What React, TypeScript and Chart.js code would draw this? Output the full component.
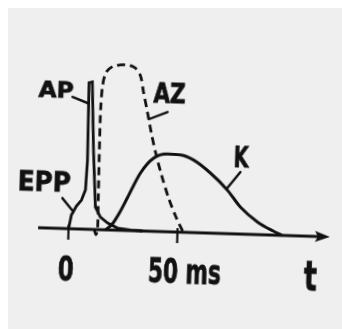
import React, { useEffect, useRef } from "react";
import { Chart, registerables } from "chart.js";

Chart.register(...registerables);

// ---- data (time in ms, amplitude in arbitrary units) ----
const eppApTime = [0, 1.1, 3.3, 5.5, 7.2, 7.7, 7.3, 8.8, 10.3, 12.0, 14.4, 17.8, 22.4, 28.4, 34];
const eppApValue = [0, 13.7, 22.9, 29, 39.2, 69, 146.5, 147.4, 79.4, 22.5, 12.6, 6.9, 2.2, 0.6, 0];

const azTime = [11.8, 12.6, 13.3, 13.2, 13.0, 13.0, 13.6, 15.1, 18.3, 21.5, 25.1, 28.3, 30.8, 32.4, 34.5, 36.6, 38.8, 41.8, 45.4, 48.9, 52.2, 53.5];
const azValue = [0, -5, 0, 30, 80, 120, 145, 158, 164, 165.3, 165.5, 162.7, 155, 139, 119, 98, 79, 57, 34, 16, 2, 0];

const kTime = [17, 20, 23, 26.6, 32.2, 37.9, 44.3, 50.3, 56.3, 64.3, 72.3, 78.5, 86.6, 94, 98];
const kValue = [0, 6, 17, 33, 58, 73, 77.7, 77.2, 72.6, 60, 43.6, 27, 12.6, 4, 0];

const axisRange = [-14, 120];
const tickValues = [0, 50];
const tickLabels = ["0", "50 ms"];
const curveLabels = ["EPP", "AP", "AZ", "K"];
const axisTitle = "t";

// ---- styling / layout ----
const INK = "#111111";
const BG = "#efefef";
const FONT = '"DejaVu Sans", sans-serif';

type Lbl = { text: string; t: number; v: number; size: number; width: number; leader?: number[][] };

const curveLabelLayout: Lbl[] = [
  { text: curveLabels[0], t: -24, v: 37, size: 27, width: 53, leader: [[-3.3, 30.4], [2, 17]] },
  { text: curveLabels[1], t: -15.7, v: 130.7, size: 21, width: 35, leader: [[-0.1, 131.8], [7.1, 126]] },
  { text: curveLabels[2], t: 37.1, v: 129.3, size: 26, width: 32, leader: [[43.7, 119.7], [35.3, 112]] },
  { text: curveLabels[3], t: 74.7, v: 66.8, size: 29, width: 15, leader: [[78, 62], [72, 45]] },
];

const tickLabelLayout: Lbl[] = [
  { text: tickLabels[0], t: -4.4, v: -51.7, size: 34, width: 16 },
  { text: tickLabels[1], t: 37, v: -50.9, size: 33, width: 73 },
  { text: axisTitle, t: 108.6, v: -54, size: 40, width: 13 },
];

const toPoints = (xs: number[], ys: number[]) => xs.map((x, i) => ({ x, y: ys[i] }));

function drawLabel(ctx: CanvasRenderingContext2D, x: any, y: any, l: Lbl) {
  ctx.save();
  ctx.font = `bold ${l.size}px ${FONT}`;
  ctx.fillStyle = INK;
  ctx.strokeStyle = INK;
  ctx.lineWidth = 0.8;
  ctx.textBaseline = "alphabetic";
  ctx.textAlign = "left";
  const w = ctx.measureText(l.text).width;
  ctx.translate(x.getPixelForValue(l.t), y.getPixelForValue(l.v));
  ctx.scale(l.width / w, 1);
  ctx.fillText(l.text, 0, 0);
  ctx.strokeText(l.text, 0, 0);
  ctx.restore();
}

const overlay = {
  id: "overlay",
  beforeDatasetsDraw(chart: any) {
    const { ctx, scales } = chart;
    const x = scales.x;
    const y = scales.y;
    const y0 = y.getPixelForValue(0);
    const tip = x.getPixelForValue(axisRange[1]);
    ctx.save();
    ctx.strokeStyle = INK;
    ctx.fillStyle = INK;
    ctx.lineWidth = 3.2;
    ctx.beginPath();
    ctx.moveTo(x.getPixelForValue(axisRange[0]), y0);
    ctx.lineTo(tip - 8, y0);
    ctx.stroke();
    ctx.beginPath();
    ctx.moveTo(tip, y0);
    ctx.lineTo(tip - 15, y0 - 5.5);
    ctx.lineTo(tip - 12, y0);
    ctx.lineTo(tip - 15, y0 + 5.5);
    ctx.closePath();
    ctx.fill();
    ctx.lineWidth = 2.2;
    tickValues.forEach((tv) => {
      const px = x.getPixelForValue(tv);
      ctx.beginPath();
      ctx.moveTo(px, y.getPixelForValue(4));
      ctx.lineTo(px, y.getPixelForValue(-11));
      ctx.stroke();
    });
    ctx.restore();
  },
  afterDatasetsDraw(chart: any) {
    const { ctx, scales } = chart;
    const x = scales.x;
    const y = scales.y;
    ctx.save();
    ctx.strokeStyle = INK;
    ctx.lineWidth = 2.4;
    ctx.lineCap = "round";
    curveLabelLayout.forEach((l) => {
      if (l.leader) {
        ctx.beginPath();
        ctx.moveTo(x.getPixelForValue(l.leader[0][0]), y.getPixelForValue(l.leader[0][1]));
        ctx.lineTo(x.getPixelForValue(l.leader[1][0]), y.getPixelForValue(l.leader[1][1]));
        ctx.stroke();
      }
    });
    ctx.restore();
    curveLabelLayout.forEach((l) => drawLabel(ctx, x, y, l));
    tickLabelLayout.forEach((l) => drawLabel(ctx, x, y, l));
  },
};

export default function App() {
  const ref = useRef<HTMLCanvasElement | null>(null);
  useEffect(() => {
    if (!ref.current) return;
    const chart = new Chart(ref.current, {
      type: "line",
      data: {
        datasets: [
          {
            label: "EPP/AP",
            data: toPoints(eppApTime, eppApValue),
            borderColor: INK,
            borderWidth: 2.8,
            pointRadius: 0,
            tension: 0,
            fill: false,
            clip: false as any,
          },
          {
            label: "AZ",
            data: toPoints(azTime, azValue),
            borderColor: INK,
            borderWidth: 2.8,
            borderDash: [8, 5],
            pointRadius: 0,
            tension: 0.3,
            fill: false,
            clip: false as any,
          },
          {
            label: "K",
            data: toPoints(kTime, kValue),
            borderColor: INK,
            borderWidth: 3,
            pointRadius: 0,
            cubicInterpolationMode: "monotone",
            fill: false,
            clip: false as any,
          },
        ],
      },
      options: {
        responsive: false,
        animation: false,
        events: [],
        layout: { padding: { left: 32, right: 10, top: 24, bottom: 87 } },
        plugins: { legend: { display: false }, tooltip: { enabled: false } },
        scales: {
          x: { type: "linear", min: axisRange[0], max: axisRange[1], display: false },
          y: { type: "linear", min: -10, max: 200, display: false },
        },
      },
      plugins: [overlay],
    });
    return () => chart.destroy();
  }, []);

  return (
    <div
      style={{
        position: "fixed",
        left: 8,
        top: 8,
        right: 0,
        bottom: 0,
        background: BG,
        overflow: "hidden",
      }}
    >
      <canvas
        ref={ref}
        width={334}
        height={321}
        style={{ display: "block", width: 334, height: 321, transform: "rotate(1.8deg)" }}
      />
    </div>
  );
}
